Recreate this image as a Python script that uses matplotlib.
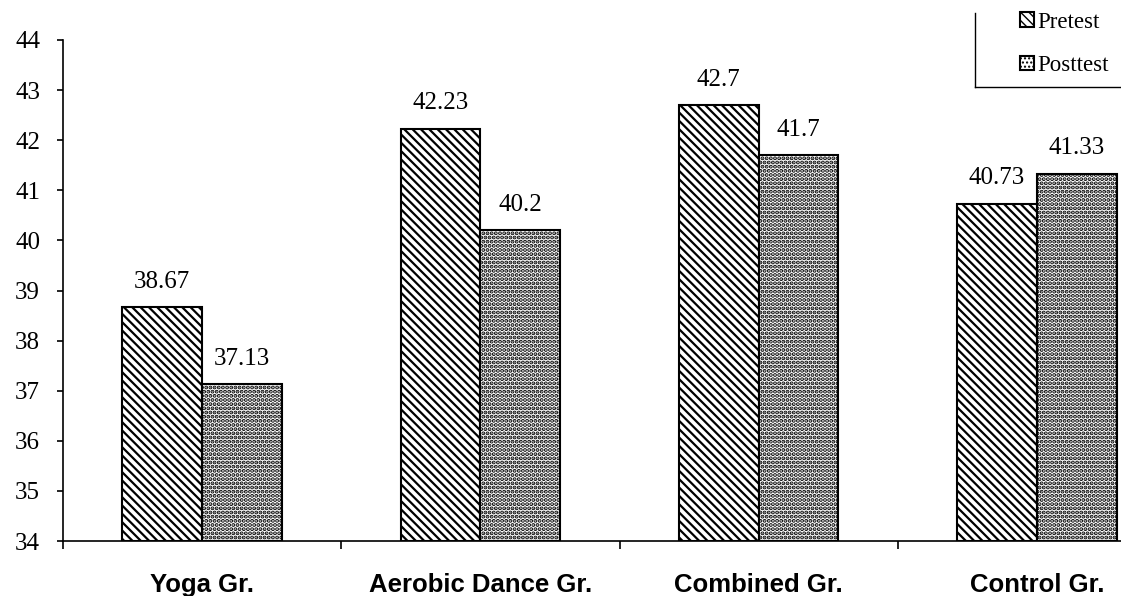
import matplotlib.pyplot as plt
import numpy as np
from matplotlib.lines import Line2D

plt.rcParams.update({
    "font.family": "Liberation Serif",
    "hatch.color": "black",
})

groups = ["Yoga Gr.", "Aerobic Dance Gr.", "Combined Gr.", "Control Gr."]
pretest = [38.67, 42.23, 42.7, 40.73]
posttest = [37.13, 40.2, 41.7, 41.33]
pre_labels = ["38.67", "42.23", "42.7", "40.73"]
post_labels = ["37.13", "40.2", "41.7", "41.33"]

W, H = 1121, 596
fig = plt.figure(figsize=(W / 100, H / 100), dpi=100)
# axes run past the right edge so the last group sits close to the border
ax = fig.add_axes([63 / W, 1 - 541 / H, 1113 / W, (541 - 40) / H])

x = np.arange(len(groups))
bw = 0.287
with plt.rc_context({"hatch.linewidth": 1.6}):
    b1 = ax.bar(x - bw / 2, [v - 34 for v in pretest], bw, bottom=34,
                color="white", edgecolor="black", linewidth=1.5, hatch="\\\\\\\\",
                label="Pretest")
with plt.rc_context({"hatch.linewidth": 2.0}):
    b2 = ax.bar(x + bw / 2, [v - 34 for v in posttest], bw, bottom=34,
                color="white", edgecolor="black", linewidth=1.5, hatch="....",
                label="Posttest")

for xs, vals, labs in [(x - bw / 2, pretest, pre_labels), (x + bw / 2, posttest, post_labels)]:
    for xi, v, s in zip(xs, vals, labs):
        ax.annotate(s, (xi, v), xytext=(0, 14), textcoords="offset points",
                    ha="center", va="baseline", fontsize=18)

ax.set_ylim(34, 44)
ax.set_xlim(-0.5, 3.5)
ax.set_yticks(range(34, 45))
ax.tick_params(axis="y", direction="out", length=4.5, width=1.2, pad=12, labelsize=18)

ax.set_xticks(np.arange(-0.5, 3.0, 1.0))
ax.set_xticklabels([])
ax.tick_params(axis="x", which="major", direction="out", length=6, width=1.2)
ax.set_xticks(x, minor=True)
ax.set_xticklabels(groups, minor=True, fontfamily="Liberation Sans",
                   fontweight="bold", fontsize=18.5)
ax.tick_params(axis="x", which="minor", length=0, pad=23)

for side in ["top", "right"]:
    ax.spines[side].set_visible(False)
for side in ["left", "bottom"]:
    ax.spines[side].set_linewidth(1.2)

leg = fig.legend(handles=[b1, b2], loc="center left",
                 bbox_to_anchor=(1020 / W, 1 - 44 / H), frameon=False,
                 borderpad=0, borderaxespad=0,
                 fontsize=16.5, handlelength=0.6, handleheight=0.6,
                 handletextpad=0.15, labelspacing=0.98)

# legend border: left and bottom edges only, the rest falls off the figure
fig.add_artist(Line2D([975 / W, 975 / W], [1 - 13 / H, 1 - 87 / H],
                      color="black", linewidth=1.0, transform=fig.transFigure))
fig.add_artist(Line2D([975 / W, 1.0], [1 - 87 / H, 1 - 87 / H],
                      color="black", linewidth=1.0, transform=fig.transFigure))

fig.savefig("out.png", dpi=100)
